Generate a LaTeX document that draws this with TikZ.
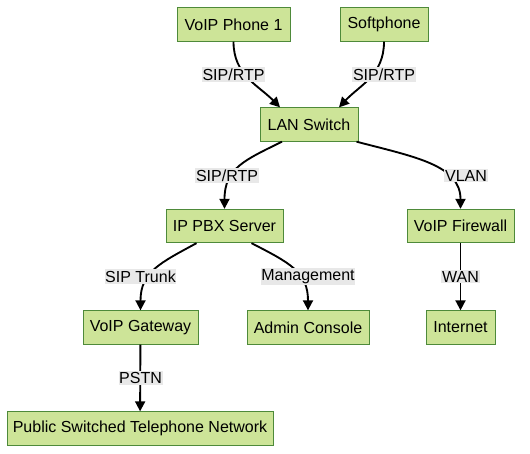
\documentclass[tikz,border=0pt]{standalone}
\usepackage{fontspec}
\setmainfont{Liberation Sans}
\usetikzlibrary{arrows.meta,calc}
\definecolor{nodefill}{HTML}{CDE498}
\definecolor{nodeline}{HTML}{4E8A3A}
\definecolor{lblbg}{HTML}{E8E8E8}
\tikzset{
  box/.style={draw=nodeline, fill=nodefill, line width=0.75pt, minimum height=25pt, inner xsep=0pt, font=\fontsize{12pt}{14pt}\selectfont, text=black},
  edge/.style={line width=1.4pt, -{Triangle[length=7.5pt,width=7.5pt]}},
  lbl/.style={fill=lblbg, inner xsep=0.5pt, inner ysep=1pt, font=\fontsize{12pt}{14pt}\selectfont, text=black}
}
\begin{document}
\begin{tikzpicture}[x=0.75pt,y=-0.75pt]
\useasboundingbox (0,0) rectangle (530,453);
\node[box, minimum width=84.75pt] (p1) at (233.5,24.5) {VoIP Phone 1};
\node[box, minimum width=66pt] (sp) at (384,24.5) {Softphone};
\node[box, minimum width=73.5pt] (lan) at (309,124.5) {LAN Switch};
\node[box, minimum width=87.75pt] (pbx) at (224.5,226) {IP PBX Server};
\node[box, minimum width=80.25pt] (fw) at (460.5,226) {VoIP Firewall};
\node[box, minimum width=86.25pt] (gw) at (140.5,327.5) {VoIP Gateway};
\node[box, minimum width=91.5pt] (adm) at (308,327.5) {Admin Console};
\node[box, minimum width=51.75pt] (inet) at (460.5,327.5) {Internet};
\node[box, minimum width=199.5pt] (pstn) at (140,428.5) {Public Switched Telephone Network};

\coordinate (lanA) at ($(lan.north)+(-29,0)$);
\coordinate (lanB) at ($(lan.north)+(30,0)$);
\coordinate (lanC) at ($(lan.south)+(-27,0)$);
\coordinate (lanD) at ($(lan.south east)+(-2,0)$);
\coordinate (pbxA) at ($(pbx.south)+(-28,0)$);
\coordinate (pbxB) at ($(pbx.south)+(27,0)$);

\draw[edge] (p1.south) .. controls (233.5,75) and (258,85) .. (lanA);
\draw[edge] (sp.south) .. controls (384,75) and (360,85) .. (lanB);
\draw[edge] (lanC) .. controls (245,160) and (224.5,168) .. (pbx.north);
\draw[edge] (lanD) .. controls (415,157) and (460.5,165) .. (fw.north);
\draw[edge] (pbxA) .. controls (160,263) and (140.5,272) .. (gw.north);
\draw[edge] (pbxB) .. controls (290,263) and (308,272) .. (adm.north);
\draw[edge] (fw) -- (inet);
\draw[edge] (gw) -- (pstn);

\node[lbl] (l1) at (233.5,74.5) {SIP/RTP};
\node[lbl] (l2) at (384,74.5) {SIP/RTP};
\node[lbl] (l3) at (227,175.5) {SIP/RTP};
\node[lbl] (l4) at (466,175.5) {VLAN};
\node[lbl] (l5) at (140.5,276.5) {SIP Trunk};
\node[lbl] (l6) at (308,276.5) {Management};
\node[lbl] (l7) at (460.5,276.5) {WAN};
\node[lbl] (l8) at (140.5,377.5) {PSTN};
\end{tikzpicture}
\end{document}
